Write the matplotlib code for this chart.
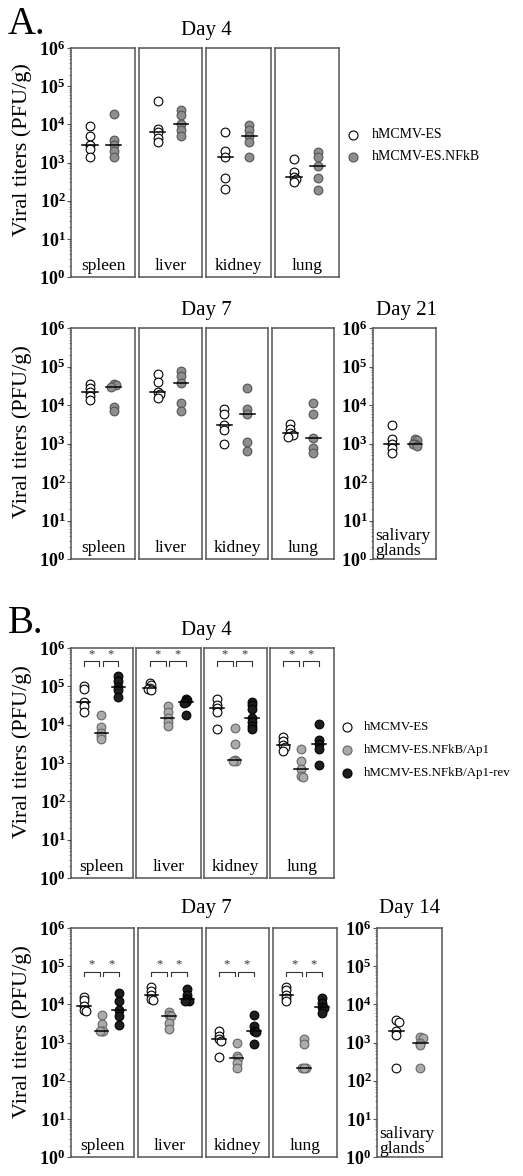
import numpy as np
import matplotlib
matplotlib.use('Agg')
import matplotlib.pyplot as plt
from matplotlib.ticker import FixedLocator, FixedFormatter, LogLocator, NullFormatter

W, H = 523, 1176

plt.rcParams['font.family'] = ['Liberation Serif', 'DejaVu Serif']
plt.rcParams['mathtext.fontset'] = 'custom'
plt.rcParams['mathtext.rm'] = 'Liberation Serif'
plt.rcParams['mathtext.bf'] = 'Liberation Serif:bold'

# Data (PFU/g), one list per organ: spleen, liver, kidney, lung
ORGANS = ['spleen', 'liver', 'kidney', 'lung']
SALIVARY = 'salivary\nglands'

A_LABELS = ['hMCMV-ES', 'hMCMV-ES.NFkB']
B_LABELS = ['hMCMV-ES', 'hMCMV-ES.NFkB/Ap1', 'hMCMV-ES.NFkB/Ap1-rev']

A4_ES = [[9000, 4800, 2900, 2200, 1400],
         [40000, 7500, 6200, 4500, 3400],
         [6300, 2000, 1400, 390, 200],
         [1200, 550, 420, 370, 300]]
A4_NFKB = [[19000, 3900, 2900, 2000, 1400],
           [24000, 18000, 10500, 7000, 4800],
           [9500, 7000, 4800, 3500, 1400],
           [1900, 1400, 800, 400, 190]]

A7_ES = [[36000, 28000, 22000, 17000, 13500],
         [62000, 40000, 22000, 19000, 15000],
         [8000, 6000, 3000, 2200, 980],
         [3300, 2400, 1900, 1700, 1500]]
A7_NFKB = [[36000, 33000, 29000, 8700, 7000],
           [78000, 55000, 38000, 11000, 7000],
           [27000, 8100, 6000, 1100, 630],
           [11000, 6000, 1400, 750, 560]]

A21_ES = [3000, 1300, 1000, 750, 560]
A21_NFKB = [1300, 1200, 1000, 950, 850]

B4_ES = [[100000, 85000, 38000, 30000, 21000],
         [125000, 110000, 90000, 85000, 78000],
         [46000, 33000, 27000, 21000, 7600],
         [4900, 3800, 2900, 2600, 2000]]
B4_AP1 = [[18000, 8900, 6200, 5200, 4300],
          [30000, 22000, 15000, 12000, 9500],
          [8000, 3200, 1200, 1150, 1100],
          [2300, 1100, 700, 450, 430]]
B4_REV = [[190000, 135000, 95000, 80000, 52000],
          [48000, 45000, 38000, 36000, 18000],
          [38000, 32000, 25000, 14500, 12000, 9000, 7500],
          [10500, 4000, 3100, 2300, 890]]

B7_ES = [[16000, 13000, 9200, 7000, 6500],
         [29000, 23000, 18000, 14000, 13000],
         [2000, 1500, 1250, 1100, 420],
         [29000, 24000, 18000, 15000, 12000]]
B7_AP1 = [[5400, 3000, 2000, 2000, 1950],
          [6200, 5200, 5000, 3200, 2200],
          [1000, 440, 390, 290, 220],
          [1200, 900, 220, 220, 220]]
B7_REV = [[20000, 12000, 7000, 4900, 2900],
          [25000, 18000, 13500, 12500, 12000],
          [5400, 2700, 2000, 1900, 900],
          [15000, 11000, 8500, 8000, 6000]]

B14_ES = [4000, 3500, 2000, 1600, 215]
B14_AP1 = [1400, 1300, 1000, 850, 215]

A_STYLES = [('white', 'black'), ('#8e8e8e', '#555555')]
B_STYLES = [('white', 'black'), ('#ababab', '#666666'), ('#1e1e1e', 'black')]
BOX_COLOR = '#555555'


def px_axes(fig, x0, x1, y0, y1):
    return fig.add_axes([x0 / W, 1 - y1 / H, (x1 - x0) / W, (y1 - y0) / H])


def spread(vals, pos):
    # small sideways shift for circles that sit on top of each other
    order = np.argsort(vals)[::-1]
    xs = np.full(len(vals), float(pos))
    last = None
    flip = 1
    for i in order:
        lv = np.log10(vals[i])
        if last is not None and abs(lv - last) < 0.07:
            xs[i] = pos + 0.1 * flip
            flip = -flip
        last = lv
    return xs


def organ_box(fig, box, groups, styles, label, xlim, med_half,
              show_y=False, brackets=None):
    ax = px_axes(fig, *box)
    ax.set_yscale('log')
    ax.set_ylim(1, 1e6)
    ax.set_xlim(*xlim)
    for s in ax.spines.values():
        s.set_color(BOX_COLOR)
        s.set_linewidth(1.1)
    ax.set_xticks([])
    if show_y:
        decades = [10.0 ** k for k in range(7)]
        ax.yaxis.set_major_locator(FixedLocator(decades))
        ax.yaxis.set_major_formatter(FixedFormatter(
            [r'$\mathbf{10^{%d}}$' % k for k in range(7)]))
        ax.yaxis.set_minor_locator(LogLocator(base=10, subs=np.arange(2, 10)))
        ax.yaxis.set_minor_formatter(NullFormatter())
        ax.tick_params(axis='y', which='major', length=3, width=0.8,
                       color=BOX_COLOR, labelsize=13, pad=1)
        ax.tick_params(axis='y', which='minor', length=1.8, width=0.5,
                       color=BOX_COLOR)
    else:
        ax.set_yticks([])
        ax.yaxis.set_minor_locator(FixedLocator([]))

    for g, (vals, (fc, ec)) in enumerate(zip(groups, styles)):
        pos = g + 1
        ax.plot(spread(vals, pos), vals, 'o', ms=6.3, mfc=fc, mec=ec,
                mew=0.8, ls='none', zorder=3)
        med = np.median(vals)
        ax.plot([pos - med_half, pos + med_half], [med, med], color='black',
                lw=1.1, zorder=4)

    if brackets is not None:
        top, leg = brackets
        for a, b in [(1.0, 1.9), (2.1, 3.0)]:
            ax.plot([a, a, b, b], [leg, top, top, leg], color='#333333',
                    lw=0.8, zorder=2)
            ax.text((a + b) / 2, top * 1.05, '*', ha='center', va='bottom',
                    fontsize=9, color='#333333')

    if '\n' in label:
        ax.text(0.04, 0.0, label, transform=ax.transAxes, ha='left',
                va='bottom', fontsize=12.5, linespacing=0.9)
    else:
        ax.text(0.5, 0.015, label, transform=ax.transAxes, ha='center',
                va='bottom', fontsize=12.5)
    return ax


fig = plt.figure(figsize=(W / 100, H / 100), dpi=100)
fig.patch.set_facecolor('white')

# ---- panel A ----
A_X = [(71, 135), (139, 202), (206, 271), (275, 339)]
for i, organ in enumerate(ORGANS):
    organ_box(fig, (*A_X[i], 48, 277), [A4_ES[i], A4_NFKB[i]], A_STYLES,
              organ, (0.2, 2.9), 0.32, show_y=(i == 0))

A7_X = [(71, 135), (139, 202), (206, 268), (272, 334)]
for i, organ in enumerate(ORGANS):
    organ_box(fig, (*A7_X[i], 328, 559), [A7_ES[i], A7_NFKB[i]], A_STYLES,
              organ, (0.2, 2.9), 0.32, show_y=(i == 0))
organ_box(fig, (373, 436, 328, 559), [A21_ES, A21_NFKB], A_STYLES,
          SALIVARY, (0.2, 2.9), 0.32, show_y=True)

# ---- panel B ----
B_X = [(71, 133), (136, 201), (204, 267), (270, 334)]
for i, organ in enumerate(ORGANS):
    organ_box(fig, (*B_X[i], 648, 878), [B4_ES[i], B4_AP1[i], B4_REV[i]],
              B_STYLES, organ, (0.25, 3.85), 0.38, show_y=(i == 0),
              brackets=(10 ** 5.65, 10 ** 5.52))

B7_X = [(71, 134), (138, 202), (206, 269), (273, 337)]
for i, organ in enumerate(ORGANS):
    organ_box(fig, (*B7_X[i], 928, 1157), [B7_ES[i], B7_AP1[i], B7_REV[i]],
              B_STYLES, organ, (0.25, 3.85), 0.38, show_y=(i == 0),
              brackets=(10 ** 4.86, 10 ** 4.73))
organ_box(fig, (377, 442, 928, 1157), [B14_ES, B14_AP1], A_STYLES[:1] + B_STYLES[1:2],
          SALIVARY, (0.2, 2.9), 0.32, show_y=True)

# ---- titles, labels, legends (overlay in pixel coords) ----
ov = fig.add_axes([0, 0, 1, 1], zorder=10)
ov.set_xlim(0, W)
ov.set_ylim(H, 0)
ov.axis('off')
ov.patch.set_alpha(0)

ov.text(8, 34, 'A.', fontsize=28, ha='left', va='baseline')
ov.text(8, 633, 'B.', fontsize=28, ha='left', va='baseline')
for x, y, t in [(206, 30, 'Day 4'), (206, 311, 'Day 7'), (406, 311, 'Day 21'),
                (206, 630, 'Day 4'), (206, 908, 'Day 7'), (410, 908, 'Day 14')]:
    ov.text(x, y, t, fontsize=15, ha='center', va='center')
for yc in [150, 432, 752, 1032]:
    ov.text(22, yc, 'Viral titers (PFU/g)', fontsize=16, rotation=90,
            ha='center', va='center')

for k, (lab, (fc, ec)) in enumerate(zip(A_LABELS, A_STYLES)):
    y = 135 + 22 * k
    ov.plot([353], [y], 'o', ms=6.5, mfc=fc, mec=ec, mew=0.8)
    ov.text(372, y, lab, fontsize=10, ha='left', va='center')
for k, (lab, (fc, ec)) in enumerate(zip(B_LABELS, B_STYLES)):
    y = 727 + 23 * k
    ov.plot([347], [y], 'o', ms=6.5, mfc=fc, mec=ec, mew=0.8)
    ov.text(364, y, lab, fontsize=9.3, ha='left', va='center')

fig.savefig('out.png', dpi=100)
